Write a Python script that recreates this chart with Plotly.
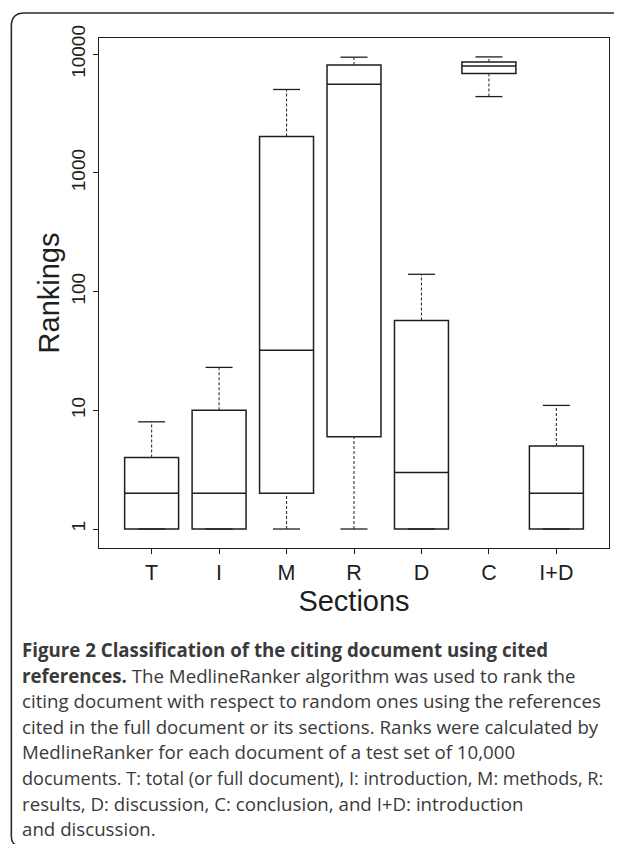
import plotly.graph_objects as go

# ---- data ----
sections = ["T", "I", "M", "R", "D", "C", "I+D"]
lower_whisker = [1, 1, 1, 1, 1, 4400, 1]
q1 = [1, 1, 2, 6, 1, 6900, 1]
median = [2, 2, 32, 5600, 3, 7950, 2]
q3 = [4, 10, 2030, 8100, 57, 8600, 5]
upper_whisker = [8, 23, 5050, 9450, 140, 9500, 11]

y_tickvals = [1, 10, 100, 1000, 10000]
y_ticktext = ["1", "10", "100", "1000", "10000"]

caption_lines = [
    "<b>Figure 2 Classification of the citing document using cited</b>",
    "<b>references.</b> The MedlineRanker algorithm was used to rank the",
    "citing document with respect to random ones using the references",
    "cited in the full document or its sections. Ranks were calculated by",
    "MedlineRanker for each document of a test set of 10,000",
    "documents. T: total (or full document), I: introduction, M: methods, R:",
    "results, D: discussion, C: conclusion, and I+D: introduction",
    "and discussion.",
]

# ---- geometry (pixels, page coordinates; page body has an 8px margin) ----
OFF = 8
W, H = 622 - OFF, 844 - OFF
PL, PR, PT, PB = 99.3 - OFF, 609.0 - OFF, 38.3 - OFF, 547.7 - OFF
PW, PH = PR - PL, PB - PT


def px_x(x):
    return (x - OFF - PL) / PW


def px_y(y):
    return (PB - (y - OFF)) / PH


pos = list(range(len(sections)))
ink = "#1e1e1e"

fig = go.Figure()

# boxes + medians
fig.add_trace(go.Box(
    x=pos, q1=q1, median=median, q3=q3,
    lowerfence=q1, upperfence=q3,
    width=0.8, whiskerwidth=0,
    fillcolor="white", line=dict(color=ink, width=1.5),
    boxpoints=False, showlegend=False, hoverinfo="skip",
))

# dashed whiskers
wx, wy = [], []
for i in pos:
    if upper_whisker[i] > q3[i]:
        wx += [i, i, None]
        wy += [q3[i], upper_whisker[i], None]
    if lower_whisker[i] < q1[i]:
        wx += [i, i, None]
        wy += [lower_whisker[i], q1[i], None]
fig.add_trace(go.Scatter(
    x=wx, y=wy, mode="lines",
    line=dict(color="#333333", width=1.1, dash="3px,2px"),
    showlegend=False, hoverinfo="skip",
))

# whisker caps
cx, cy = [], []
for i in pos:
    for v in (lower_whisker[i], upper_whisker[i]):
        cx += [i - 0.2, i + 0.2, None]
        cy += [v, v, None]
fig.add_trace(go.Scatter(
    x=cx, y=cy, mode="lines",
    line=dict(color=ink, width=1.3),
    showlegend=False, hoverinfo="skip",
))

# caption lines
y0, dy = 649.0, 25.6
for k, line in enumerate(caption_lines):
    size = 18.1 if len(line) > 70 else 18.7
    fig.add_annotation(
        text=line, xref="paper", yref="paper",
        x=px_x(20.5), y=px_y(y0 + k * dy),
        xanchor="left", yanchor="middle", showarrow=False,
        font=dict(family="Open Sans", size=size, color="#3a3a3a"),
    )

# outer rounded border
r = 13
x0b, y0b, x1b, y1b = 11.7, 13.3, 640, 846
path = (
    f"M {px_x(x0b)},{px_y(y1b - 10)} "
    f"L {px_x(x0b)},{px_y(y0b + r)} "
    f"Q {px_x(x0b)},{px_y(y0b)} {px_x(x0b + r)},{px_y(y0b)} "
    f"L {px_x(x1b)},{px_y(y0b)} "
)
fig.add_shape(type="path", xref="paper", yref="paper", path=path,
              line=dict(color="#2a2a2a", width=1.6))
fig.add_shape(type="path", xref="paper", yref="paper",
              path=(f"M {px_x(x0b)},{px_y(y1b - 10)} "
                    f"Q {px_x(x0b)},{px_y(y1b - 4)} {px_x(x0b + 4)},{px_y(y1b - 2)}"),
              line=dict(color="#2a2a2a", width=1.6))

fig.update_layout(
    width=W, height=H,
    margin=dict(l=PL, r=W - PR, t=PT, b=H - PB),
    plot_bgcolor="white", paper_bgcolor="white",
    font=dict(family="Liberation Sans", color=ink),
    showlegend=False,
)
fig.update_xaxes(
    range=[-0.78, len(sections) - 1 + 0.78],
    tickvals=pos, ticktext=sections,
    tickfont=dict(size=21.5, color=ink),
    ticks="outside", ticklen=5, tickwidth=1.2, tickcolor=ink,
    showline=True, mirror=True, linecolor=ink, linewidth=1.4,
    showgrid=False, zeroline=False,
    title=dict(text="Sections", font=dict(size=29, color=ink), standoff=4),
)
fig.update_yaxes(
    type="log", range=[-0.16, 4.137],
    tickvals=y_tickvals, ticktext=y_ticktext, tickangle=-90,
    tickfont=dict(size=19, color=ink),
    ticks="outside", ticklen=5, tickwidth=1.2, tickcolor=ink,
    showline=True, mirror=True, linecolor=ink, linewidth=1.4,
    showgrid=False, zeroline=False,
    title=dict(text="Rankings", font=dict(size=29, color=ink), standoff=0),
)

fig.write_html("out.html")
